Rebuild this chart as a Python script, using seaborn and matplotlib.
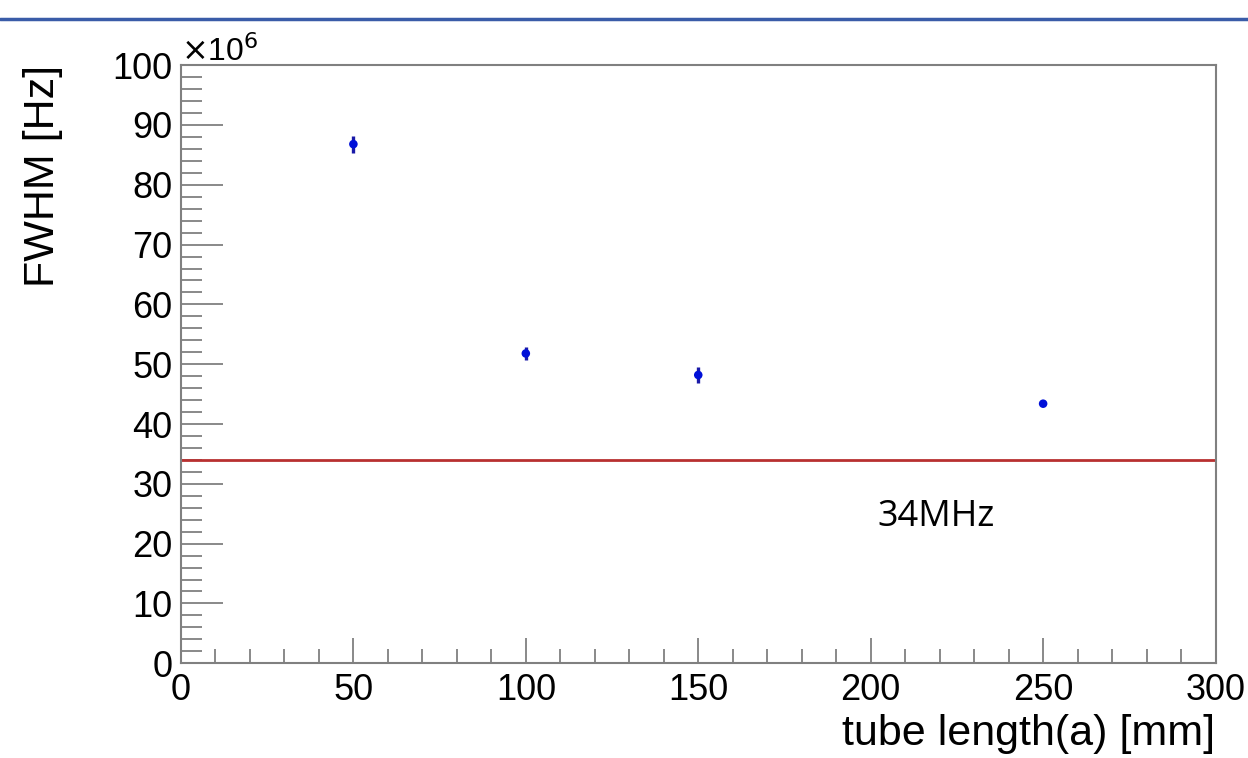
import matplotlib
matplotlib.use("Agg")
import matplotlib.pyplot as plt
import seaborn as sns
import pandas as pd
import numpy as np
from matplotlib.ticker import MultipleLocator
from matplotlib.lines import Line2D

# Data
tube_length = [50, 100, 150, 250]
fwhm_mhz = [86.8, 51.8, 48.2, 43.4]
fwhm_err = [1.4, 1.1, 1.4, 0.3]
limit_mhz = 34
limit_label = "34MHz"

df = pd.DataFrame({"x": tube_length, "y": fwhm_mhz, "err": fwhm_err})

sns.set_style("white")
plt.rcParams['font.family'] = ['Liberation Sans', 'DejaVu Sans']
plt.rcParams['text.color'] = 'black'
plt.rcParams['axes.labelcolor'] = 'black'
plt.rcParams['xtick.labelcolor'] = 'black'
plt.rcParams['ytick.labelcolor'] = 'black'

fig = plt.figure(figsize=(12.48, 7.58), dpi=100)
ax = fig.add_axes([0.145, 0.125, 0.829, 0.789])

ax.errorbar(df["x"], df["y"], yerr=df["err"], fmt="none", ecolor="#1a1aa8",
            elinewidth=2.4, capsize=0, zorder=3)
sns.scatterplot(data=df, x="x", y="y", ax=ax, color="#0010d8", s=38,
                edgecolor="none", zorder=4, legend=False)
ax.axhline(limit_mhz, color="#b83030", lw=2.0, zorder=2)

ax.set_xlim(0, 300)
ax.set_ylim(0, 100)
ax.xaxis.set_major_locator(MultipleLocator(50))
ax.xaxis.set_minor_locator(MultipleLocator(10))
ax.yaxis.set_major_locator(MultipleLocator(10))
ax.yaxis.set_minor_locator(MultipleLocator(2))

spc = "#808080"
for s in ax.spines.values():
    s.set_color(spc)
    s.set_linewidth(1.5)
    s.set_visible(True)

ax.tick_params(axis="both", which="both", direction="in", color=spc, width=1.3,
               labelsize=26, top=False, right=False, bottom=True, left=True)
ax.tick_params(axis="x", which="major", length=18, pad=7)
ax.tick_params(axis="x", which="minor", length=10)
ax.tick_params(axis="y", which="major", length=30, pad=6)
ax.tick_params(axis="y", which="minor", length=15)

ax.set_xlabel("tube length(a) [mm]", fontsize=31, loc="right", labelpad=4)
ax.set_ylabel("FWHM [Hz]", fontsize=31, loc="top", labelpad=36)

ax.text(0.0, 0.995, r"$\times$10$^{6}$", transform=ax.transAxes, fontsize=23,
        ha="left", va="bottom")
ax.text(0.673, 0.245, limit_label, transform=ax.transAxes, fontsize=26,
        family="Open Sans", ha="left", va="center")

# top blue rule
fig.add_artist(Line2D([0, 1], [0.975, 0.975], transform=fig.transFigure,
                      color="#3a5ca8", lw=2.5))

fig.savefig("out.png", dpi=100)
